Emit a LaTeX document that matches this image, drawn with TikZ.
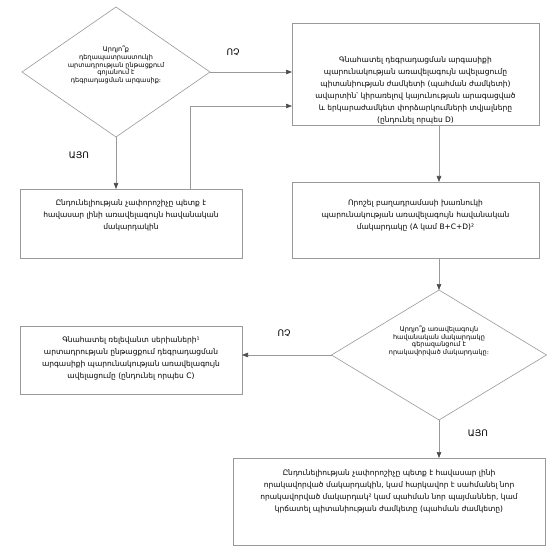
\documentclass[tikz,border=0pt]{standalone}
\usepackage{fontspec}
\setmainfont{DejaVu Sans}
\usetikzlibrary{shapes.geometric,arrows.meta,positioning}

\begin{document}
\begin{tikzpicture}[x=1pt,y=-1pt,
  box/.style={rectangle,draw=black!40,line width=0.6pt,inner sep=0pt,outer sep=0pt},
  decision/.style={diamond,draw=black!40,line width=0.6pt,inner sep=0pt,outer sep=0pt},
  boxtext/.style={align=center,inner sep=0pt,font=\fontsize{7.5}{12}\selectfont},
  dectext/.style={align=center,inner sep=0pt,font=\fontsize{6.5}{7.6}\selectfont},
  answer/.style={inner sep=0pt,font=\fontsize{9}{10}\selectfont},
  conn/.style={draw=black!40,line width=0.6pt,-{Triangle[length=6pt,width=4.5pt,color=black!70]}}]
\fill[white] (0,0) rectangle (560,559);
\useasboundingbox (0,0) rectangle (560,559);
\node[decision,minimum width=188pt,minimum height=130pt] (d1) at (116,72) {};
\node[dectext] (d1t) at (116,65) {Արդյո՞ք\\դեղապատրաստուկի\\արտադրության ընթացքում\\գոյանում է\\դեգրադացման արգասիք։};
\node[box,minimum width=247pt,minimum height=102pt] (b1) at (415.5,74) {};
\node[boxtext,below=34pt of b1.north,anchor=north] (b1t) {Գնահատել դեգրադացման արգասիքի\\պարունակության առավելագույն ավելացումը\\պիտանիության ժամկետի (պահման ժամկետի)\\ավարտին՝ կիրառելով կայունության արագացված\\և երկարաժամկետ փորձարկումների տվյալները\\(ընդունել որպես D)};
\node[box,minimum width=222pt,minimum height=69pt] (b3) at (131,223.5) {};
\node[boxtext,below=11pt of b3.north,anchor=north] (b3t) {Ընդունելիության չափորոշիչը պետք է\\հավասար լինի առավելագույն հավանական\\մակարդակին};
\node[box,minimum width=247pt,minimum height=76pt] (b2) at (415.5,220) {};
\node[boxtext,below=18pt of b2.north,anchor=north] (b2t) {Որոշել բաղադրամասի խառնուկի\\պարունակության առավելագույն հավանական\\մակարդակը (A կամ B+C+D)²};
\node[decision,minimum width=215pt,minimum height=130pt] (d2) at (439,355) {};
\node[dectext] (d2t) at (439,341) {Արդյո՞ք առավելագույն\\հավանական մակարդակը\\գերազանցում է\\որակավորված մակարդակը։};
\node[box,minimum width=222pt,minimum height=68pt] (b4) at (131,360) {};
\node[boxtext,below=11pt of b4.north,anchor=north] (b4t) {Գնահատել ռելեվանտ սերիաների¹\\արտադրության ընթացքում դեգրադացման\\արգասիքի պարունակության առավելագույն\\ավելացումը (ընդունել որպես C)};
\node[box,minimum width=312pt,minimum height=87pt] (b5) at (389,501.5) {};
\node[boxtext,below=12pt of b5.north,anchor=north] (b5t) {Ընդունելիության չափորոշիչը պետք է հավասար լինի\\որակավորված մակարդակին, կամ հարկավոր է սահմանել նոր\\որակավորված մակարդակ² կամ պահման նոր պայմաններ, կամ\\կրճատել պիտանիության ժամկետը (պահման ժամկետը)};
\node[answer] (no1) at (233,52) {ՈՉ};
\node[answer] (yes1) at (79,155) {ԱՅՈ};
\node[answer] (no2) at (284,333) {ՈՉ};
\node[answer] (yes2) at (478,433) {ԱՅՈ};
\coordinate (j1) at (190,106);
\draw[conn] (d1.east) -- (d1.east -| b1.west);
\draw[conn] (d1.south) -- (d1.south |- b3.north);
\draw[conn] (j1 |- b3.north) -- (j1) -- (j1 -| b1.west);
\draw[conn] (b1.south -| d2.north) -- (b2.north -| d2.north);
\draw[conn] (b2.south -| d2.north) -- (d2.north);
\draw[conn] (d2.west) -- (d2.west -| b4.east);
\draw[conn] (d2.south) -- (d2.south |- b5.north);
\end{tikzpicture}
\end{document}
